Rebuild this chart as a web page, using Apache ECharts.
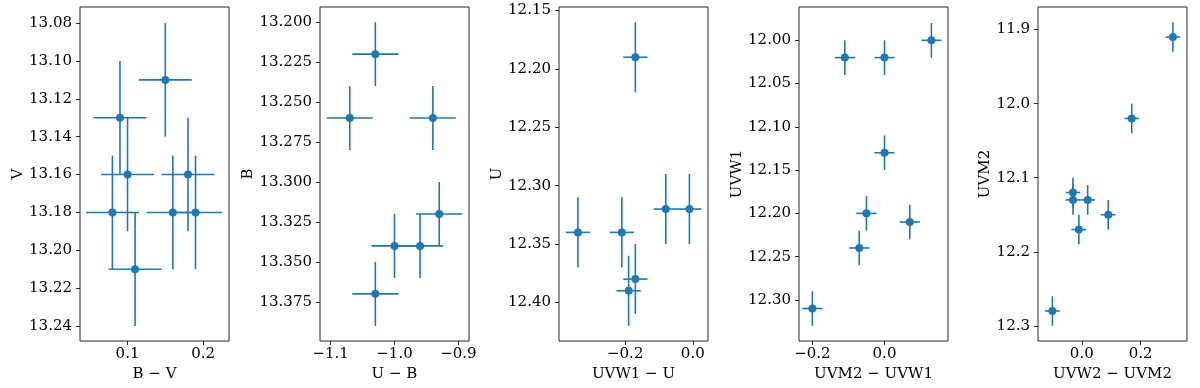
<!DOCTYPE html>
<html>
<head>
<meta charset="utf-8">
<script src="https://cdn.jsdelivr.net/npm/echarts@6/dist/echarts.min.js"></script>
<style>
html, body { margin: 0; padding: 0; background: #fff; }
#main { width: 1200px; height: 388px; }
</style>
</head>
<body>
<div id="main"></div>
<script>
// panel 1: V against B-V
var bvColor = [0.15, 0.09, 0.10, 0.18, 0.08, 0.16, 0.19, 0.11];
var vMag    = [13.11, 13.13, 13.16, 13.16, 13.18, 13.18, 13.18, 13.21];
// panel 2: B against U-B
var ubColor = [-1.03, -1.07, -0.94, -0.93, -1.00, -0.96, -1.03];
var bMag    = [13.22, 13.26, 13.26, 13.32, 13.34, 13.34, 13.37];
// panel 3: U against UVW1-U
var w1uColor = [-0.17, -0.34, -0.21, -0.08, -0.01, -0.17, -0.19];
var uMag     = [12.19, 12.34, 12.34, 12.32, 12.32, 12.38, 12.39];
// panel 4: UVW1 against UVM2-UVW1
var m2w1Color = [0.13, -0.11, 0.00, 0.00, -0.05, 0.07, -0.07, -0.20];
var w1Mag     = [12.00, 12.02, 12.02, 12.13, 12.20, 12.21, 12.24, 12.31];
// panel 5: UVM2 against UVW2-UVM2
var w2m2Color = [0.31, 0.17, -0.03, -0.03, 0.02, 0.09, -0.01, -0.10];
var m2Mag     = [11.91, 12.02, 12.12, 12.13, 12.13, 12.15, 12.17, 12.28];

// error sizes per panel (colour, magnitude)
var colorErr = [0.035, 0.036, 0.036, 0.028, 0.025];
var magErr   = [0.03, 0.02, 0.03, 0.02, 0.02];

// tick labels
var xTicks = [
    [0.1, 0.2],
    [-1.1, -1.0, -0.9],
    [-0.2, 0.0],
    [-0.2, 0.0],
    [0.0, 0.2]
];
var yTicks = [
    [13.08, 13.10, 13.12, 13.14, 13.16, 13.18, 13.20, 13.22, 13.24],
    [13.200, 13.225, 13.250, 13.275, 13.300, 13.325, 13.350, 13.375],
    [12.15, 12.20, 12.25, 12.30, 12.35, 12.40],
    [12.00, 12.05, 12.10, 12.15, 12.20, 12.25, 12.30],
    [11.9, 12.0, 12.1, 12.2, 12.3]
];
var xDigits = [1, 1, 1, 1, 1];
var yDigits = [2, 3, 2, 2, 1];
var xNames = ['B \u2212 V', 'U \u2212 B', 'UVW1 \u2212 U', 'UVM2 \u2212 UVW1', 'UVW2 \u2212 UVM2'];
var yNames = ['V', 'B', 'U', 'UVW1', 'UVM2'];

var xRange = [[0.0371, 0.2343], [-1.1166, -0.8834], [-0.396, 0.045], [-0.237, 0.176], [-0.149, 0.358]];
var yRange = [[13.0715, 13.2479], [13.1905, 13.3995], [12.147, 12.433], [11.9615, 12.3475], [11.8695, 12.3205]];
var yNameGap = [53, 62, 54, 54, 45];

var xs = [bvColor, ubColor, w1uColor, m2w1Color, w2m2Color];
var ys = [vMag, bMag, uMag, w1Mag, m2Mag];

var blue = '#1f77b4';
var font = 'DejaVu Serif';
var fs = 15;

function fmt(d) {
    return function (v) { return Number(v).toFixed(d).replace('-', '\u2212'); };
}

function errorBars(params, api) {
    var x = api.value(0), y = api.value(1), ex = api.value(2), ey = api.value(3);
    var l = api.coord([x - ex, y]), r = api.coord([x + ex, y]);
    var t = api.coord([x, y - ey]), b = api.coord([x, y + ey]);
    var st = { stroke: blue, lineWidth: 1.6 };
    return {
        type: 'group',
        children: [
            { type: 'line', shape: { x1: l[0], y1: l[1], x2: r[0], y2: r[1] }, style: st },
            { type: 'line', shape: { x1: t[0], y1: t[1], x2: b[0], y2: b[1] }, style: st }
        ]
    };
}

var grids = [], xAxes = [], yAxes = [], series = [];
for (var i = 0; i < 5; i++) {
    grids.push({
        left: [80, 320, 559, 799, 1038][i], top: 7, width: 149, height: 334,
        show: true, borderColor: '#262626', borderWidth: 1, backgroundColor: 'transparent',
        containLabel: false, outerBoundsMode: 'none'
    });
    xAxes.push({
        type: 'value', gridIndex: i, min: xRange[i][0], max: xRange[i][1],
        name: xNames[i], nameLocation: 'middle', nameGap: 23,
        nameTextStyle: { fontFamily: font, fontSize: fs, color: '#000' },
        axisLine: { show: false, onZero: false },
        axisTick: { show: true, inside: false, length: 4, customValues: xTicks[i], lineStyle: { color: '#262626', width: 1 } },
        axisLabel: { customValues: xTicks[i], margin: 6, formatter: fmt(xDigits[i]), fontFamily: font, fontSize: fs, color: '#000' },
        splitLine: { show: false }
    });
    yAxes.push({
        type: 'value', gridIndex: i, inverse: true, min: yRange[i][0], max: yRange[i][1],
        name: yNames[i], nameLocation: 'middle', nameGap: yNameGap[i],
        nameTextStyle: { fontFamily: font, fontSize: fs, color: '#000' },
        axisLine: { show: false, onZero: false },
        axisTick: { show: true, inside: false, length: 4, customValues: yTicks[i], lineStyle: { color: '#262626', width: 1 } },
        axisLabel: { customValues: yTicks[i], margin: 8, formatter: fmt(yDigits[i]), fontFamily: font, fontSize: fs, color: '#000' },
        splitLine: { show: false }
    });
    var pts = xs[i].map(function (x, k) { return [x, ys[i][k], colorErr[i], magErr[i]]; });
    series.push({
        type: 'custom', xAxisIndex: i, yAxisIndex: i, renderItem: errorBars,
        encode: { x: 0, y: 1 }, data: pts, z: 2, silent: true
    });
    series.push({
        type: 'scatter', xAxisIndex: i, yAxisIndex: i, symbolSize: 8,
        itemStyle: { color: blue, opacity: 1 }, data: pts.map(function (p) { return [p[0], p[1]]; }), z: 3, silent: true
    });
}

var myChart = echarts.init(document.getElementById('main'));
myChart.setOption({
    animation: false,
    backgroundColor: '#fff',
    grid: grids,
    xAxis: xAxes,
    yAxis: yAxes,
    series: series
});
</script>
</body>
</html>
